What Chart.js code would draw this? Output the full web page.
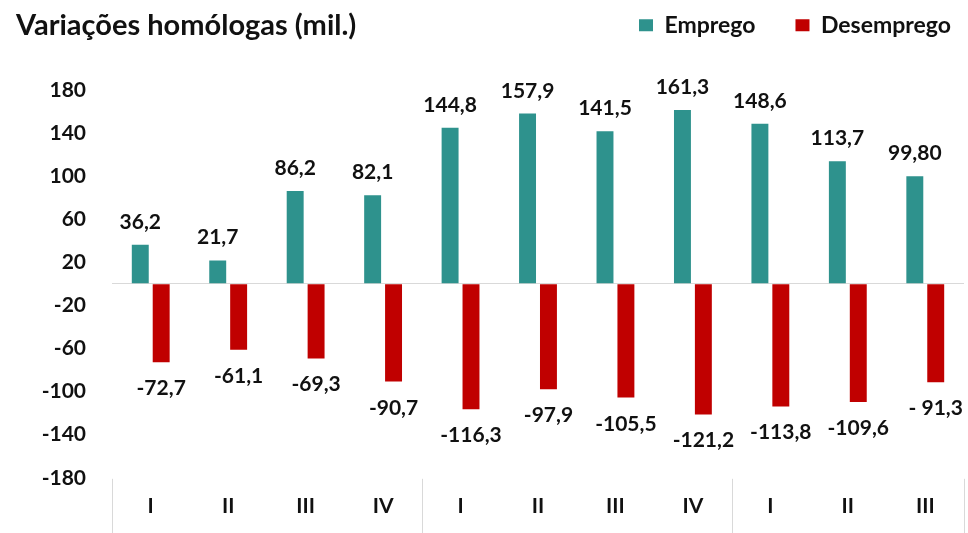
<!DOCTYPE html>
<html>
<head>
<meta charset="utf-8">
<script src="https://cdn.jsdelivr.net/npm/chart.js@4.4.1/dist/chart.umd.min.js"></script>
<style>
  body { margin: 0; background: #fff; }
  #wrap { width: 968px; height: 533px; }
</style>
</head>
<body>
<div id="wrap"><canvas id="jobsChart"></canvas></div>
<script>
// quarters (three years)
const quarters = ['I', 'II', 'III', 'IV', 'I', 'II', 'III', 'IV', 'I', 'II', 'III'];
const emprego = [36.2, 21.7, 86.2, 82.1, 144.8, 157.9, 141.5, 161.3, 148.6, 113.7, 99.8];
const desemprego = [-72.7, -61.1, -69.3, -90.7, -116.3, -97.9, -105.5, -121.2, -113.8, -109.6, -91.3];
// labels as printed on the chart
const empregoLabels = ['36,2', '21,7', '86,2', '82,1', '144,8', '157,9', '141,5', '161,3', '148,6', '113,7', '99,80'];
const desempregoLabels = ['-72,7', '-61,1', '-69,3', '-90,7', '-116,3', '-97,9', '-105,5', '-121,2', '-113,8', '-109,6', '- 91,3'];
const yTickLabels = [180, 140, 100, 60, 20, -20, -60, -100, -140, -180];

const FONT = 'Lato';
const seriesLabels = [empregoLabels, desempregoLabels];

//value labels above / below bars
const barLabels = {
    id: 'barLabels',
    afterDatasetsDraw(chart) {
        const ctx = chart.ctx;
        ctx.save();
        ctx.font = 'bold 21px ' + FONT;
        ctx.fillStyle = '#111';
        ctx.textAlign = 'center';
        ctx.textBaseline = 'alphabetic';
        chart.data.datasets.forEach((ds, di) => {
            chart.getDatasetMeta(di).data.forEach((bar, i) => {
                const y = ds.data[i] >= 0 ? bar.y - 16 : bar.y + 33;
                ctx.fillText(seriesLabels[di][i], bar.x, y);
            });
        });
        ctx.restore();
    }
};

//year separators under the category axis
const yearLines = {
    id: 'yearLines',
    afterDraw(chart) {
        const ctx = chart.ctx;
        const xs = chart.scales.x;
        const top = chart.chartArea.bottom + 1;
        const edges = [];
        quarters.forEach((q, i) => { if (q === 'I') edges.push(i - 0.5); });
        edges.push(quarters.length - 0.5);
        ctx.save();
        ctx.strokeStyle = '#d9d9d9';
        ctx.lineWidth = 1;
        edges.forEach(v => {
            const x = Math.round(xs.getPixelForValue(v)) + 0.5;
            ctx.beginPath();
            ctx.moveTo(x, top);
            ctx.lineTo(x, chart.height);
            ctx.stroke();
        });
        ctx.restore();
    }
};

//put the legend on the title line
const legendOnTitleLine = {
    id: 'legendOnTitleLine',
    afterLayout(chart) {
        chart.legend.top -= 43;
        chart.legend.bottom -= 43;
        chart.legend.right += 27;
    }
};

const ctx = document.getElementById('jobsChart').getContext('2d');
new Chart(ctx, {
    type: 'bar',
    data: {
        labels: quarters,
        datasets: [{
            label: 'Emprego',
            data: emprego,
            backgroundColor: '#2E928D',
            categoryPercentage: 0.54,
            barPercentage: 0.81
        }, {
            label: 'Desemprego',
            data: desemprego,
            backgroundColor: '#C00000',
            categoryPercentage: 0.54,
            barPercentage: 0.81
        }]
    },
    options: {
        responsive: true,
        maintainAspectRatio: false,
        animation: false,
        layout: { padding: { left: 16, right: 4, top: 7, bottom: -2 } },
        plugins: {
            title: {
                display: true,
                text: 'Variações homólogas (mil.)',
                align: 'start',
                color: '#111',
                font: { family: FONT, size: 29, weight: 'bold' },
                padding: { top: 1, bottom: -26 }
            },
            legend: {
                position: 'top',
                align: 'end',
                labels: {
                    color: '#111',
                    font: { family: FONT, size: 23, weight: 'bold' },
                    boxWidth: 14,
                    boxHeight: 12,
                    padding: 40
                }
            },
            tooltip: { enabled: false }
        },
        scales: {
            x: {
                border: { display: false },
                grid: { display: false, drawTicks: false },
                ticks: {
                    color: '#111',
                    font: { family: FONT, size: 21, weight: 'bold' },
                    padding: 16,
                    maxRotation: 0
                }
            },
            y: {
                min: -180,
                max: 180,
                border: { display: false },
                afterFit: scale => { scale.width = 96; },
                grid: {
                    drawTicks: false,
                    color: c => c.tick.value === 0 ? '#d9d9d9' : 'rgba(0,0,0,0)'
                },
                ticks: {
                    stepSize: 20,
                    autoSkip: false,
                    padding: 26,
                    color: '#111',
                    font: { family: FONT, size: 21, weight: 'bold' },
                    callback: v => yTickLabels.includes(v) ? String(v) : ''
                }
            }
        }
    },
    plugins: [barLabels, yearLines, legendOnTitleLine]
});
</script>
</body>
</html>
